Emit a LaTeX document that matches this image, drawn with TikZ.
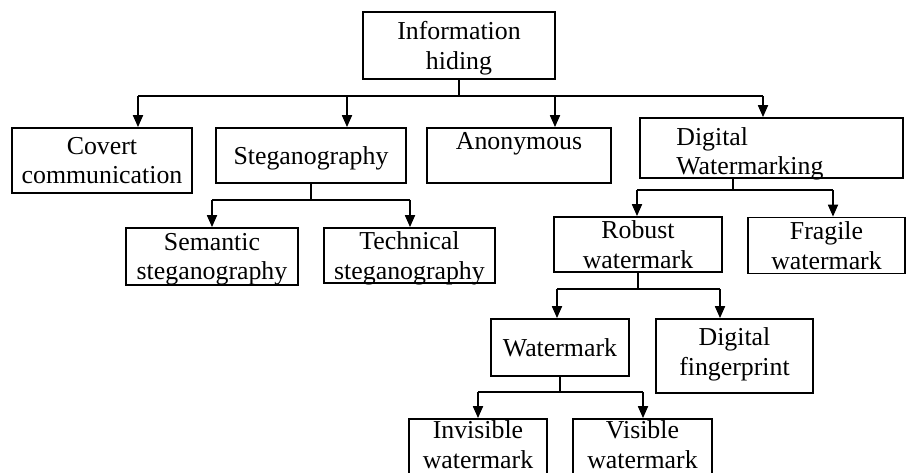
\documentclass[tikz,border=0pt]{standalone}
\usepackage{fontspec}
\setmainfont{Liberation Serif}
\usetikzlibrary{arrows.meta}

\begin{document}
\begin{tikzpicture}[x=0.02cm, y=-0.02cm,
  box/.style={draw, line width=1pt, align=center, inner sep=0pt, text depth=0pt},
  link/.style={line width=1pt},
  arr/.style={line width=1pt, -{Triangle[length=0.24cm,width=0.2cm]}},
  font=\fontsize{14.7}{16.8}\selectfont]
  \clip (0,0) rectangle (907,473);
  % top level
  \node[box, minimum width=3.84cm, minimum height=1.34cm] (info) at (459,45.5) {Information\\hiding};
  \node[box, minimum width=3.6cm, minimum height=1.3cm] (covert) at (102,160.5) {Covert\\communication};
  \node[box, minimum width=3.8cm, minimum height=1.1cm] (steg) at (311,155.5) {Steganography};
  \node[box, minimum width=3.68cm, minimum height=1.1cm] (anon) at (519,155.5) {Anonymous\\~};
  \node[box, minimum width=5.26cm, minimum height=1.2cm] (dw) at (771.5,148) {};
  \node[anchor=north west, align=left, inner sep=0pt] (dwtext) at (676,127) {Digital\\Watermarking};
  % second level
  \node[box, minimum width=3.44cm, minimum height=1.14cm] (semantic) at (212,256.5) {Semantic\\steganography};
  \node[box, minimum width=3.42cm, minimum height=1.1cm] (technical) at (409.5,255.5) {Technical\\steganography};
  \node[box, minimum width=3.36cm, minimum height=1.1cm] (robust) at (638,244.5) {Robust\\watermark};
  \node[box, minimum width=3.14cm, minimum height=1.12cm] (fragile) at (826.5,245.5) {Fragile\\watermark};
  % third level
  \node[box, minimum width=2.76cm, minimum height=1.14cm] (wmark) at (560,347.5) {Watermark};
  \node[box, minimum width=3.14cm, minimum height=1.48cm, text depth=5pt] (finger) at (734.5,356) {Digital\\fingerprint};
  \node[box, minimum width=2.76cm, minimum height=1.14cm, text depth=3.5pt] (invisible) at (478,447.5) {Invisible\\watermark};
  \node[box, minimum width=2.78cm, minimum height=1.14cm, text depth=3.5pt] (visible) at (642.5,447.5) {Visible\\watermark};

  % connectors
  \coordinate (b1) at (138,96);
  \coordinate (b4) at (763,96);
  \draw[link] (info.south) -- (info.south |- b1);
  \draw[link] (b1) -- (b4);
  \foreach \x/\n in {138/covert, 347/steg, 555/anon, 763/dw}
    \draw[arr] (\x,96) -- (\x,96 |- \n.north);

  \coordinate (s1) at (212,200);
  \coordinate (s2) at (410,200);
  \draw[link] (steg.south) -- (steg.south |- s1);
  \draw[link] (s1) -- (s2);
  \draw[arr] (s1) -- (s1 |- semantic.north);
  \draw[arr] (s2) -- (s2 |- technical.north);

  \coordinate (d0) at (733,190);
  \coordinate (d1) at (637,190);
  \coordinate (d2) at (833,190);
  \draw[link] (d0 |- dw.south) -- (d0);
  \draw[link] (d1) -- (d2);
  \draw[arr] (d1) -- (d1 |- robust.north);
  \draw[arr] (d2) -- (d2 |- fragile.north);

  \coordinate (r1) at (557,289);
  \coordinate (r2) at (720,289);
  \draw[link] (robust.south) -- (robust.south |- r1);
  \draw[link] (r1) -- (r2);
  \draw[arr] (r1) -- (r1 |- wmark.north);
  \draw[arr] (r2) -- (r2 |- finger.north);

  \coordinate (w1) at (478,392);
  \coordinate (w2) at (643,392);
  \draw[link] (wmark.south) -- (wmark.south |- w1);
  \draw[link] (w1) -- (w2);
  \draw[arr] (w1) -- (w1 |- invisible.north);
  \draw[arr] (w2) -- (w2 |- visible.north);
\end{tikzpicture}
\end{document}
